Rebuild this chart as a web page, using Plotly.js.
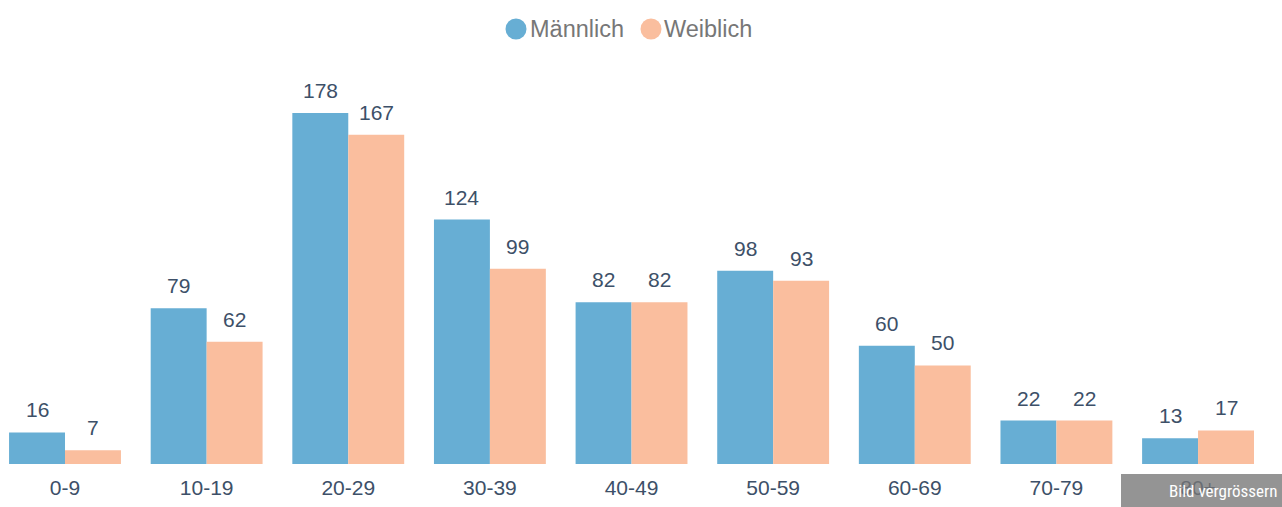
<!DOCTYPE html>
<html><head><meta charset="utf-8">
<script src="https://cdn.plot.ly/plotly-3.0.1.min.js"></script>
<style>html,body{margin:0;padding:0;background:#fff}#c{width:1282px;height:507px}</style>
</head><body><div id="c"></div>
<script>
const categories = ["0-9","10-19","20-29","30-39","40-49","50-59","60-69","70-79","80+"];
const maennlich = [16,79,178,124,82,98,60,22,13];
const weiblich = [7,62,167,99,82,93,50,22,17];
const seriesNames = ["Männlich","Weiblich"];
const colors = ["rgb(103,174,212)","rgb(250,190,158)"];
const labelColor = "#3d5068";
const FONT = "Liberation Sans, Arial, sans-serif";

// plot area geometry (pixels) used to convert overlay positions to paper fractions
const W = 1270, T = 60, B = 464, H = B - T;
const px = v => v / W;
const py = v => (B - v) / H;

const traces = [
  {type:"bar", x:categories, y:maennlich, name:seriesNames[0], marker:{color:colors[0]}, showlegend:false, hoverinfo:"skip"},
  {type:"bar", x:categories, y:weiblich, name:seriesNames[1], marker:{color:colors[1]}, showlegend:false, hoverinfo:"skip"}
];

const annotations = [];
[maennlich, weiblich].forEach((arr, s) => {
  arr.forEach((v, i) => {
    annotations.push({x:categories[i], y:v, xref:"x", yref:"y", text:String(v), showarrow:false,
      xshift: s===0 ? -28 : 28, yanchor:"bottom", yshift:9,
      font:{family:FONT, size:21, color:labelColor}});
  });
});

// legend (circle markers + labels)
const legendItems = [{cx:516, tx:528}, {cx:651, tx:662}];
const shapes = [];
legendItems.forEach((it, s) => {
  shapes.push({type:"circle", xref:"paper", yref:"paper", x0:px(it.cx-10.5), x1:px(it.cx+10.5),
    y0:py(39.5), y1:py(18.5), fillcolor:colors[s], line:{width:0}});
  annotations.push({xref:"paper", yref:"paper", x:px(it.tx), y:py(28.5), xanchor:"left", yanchor:"middle",
    text:seriesNames[s], showarrow:false, font:{family:FONT, size:23.5, color:"#777"}});
});

// "Bild vergrössern" overlay button
shapes.push({type:"rect", xref:"paper", yref:"paper", x0:px(1121), x1:px(1283), y0:py(508), y1:py(474),
  fillcolor:"rgba(118,118,118,0.78)", line:{width:0}, layer:"above"});
annotations.push({xref:"paper", yref:"paper", x:px(1279), y:py(491), xanchor:"right", yanchor:"middle",
  text:"Bild vergrössern", showarrow:false, font:{family:"Roboto Condensed, Roboto, sans-serif", size:17, color:"#fff"}});

const layout = {
  width:1282, height:507,
  margin:{l:0, r:12, t:T, b:507-B, autoexpand:false},
  paper_bgcolor:"#fff", plot_bgcolor:"#fff",
  barmode:"group", bargap:0.21, bargroupgap:0,
  showlegend:false,
  xaxis:{type:"category", range:[-0.459, 8.508], showgrid:false, zeroline:false, showline:false, ticks:"",
    ticklabelstandoff:9,
    tickfont:{family:FONT, size:21, color:labelColor}, fixedrange:true},
  yaxis:{range:[0, 204.9], visible:false, showgrid:false, zeroline:false, fixedrange:true},
  annotations:annotations,
  shapes:shapes
};
Plotly.newPlot("c", traces, layout, {displayModeBar:false, staticPlot:true});
</script></body></html>
